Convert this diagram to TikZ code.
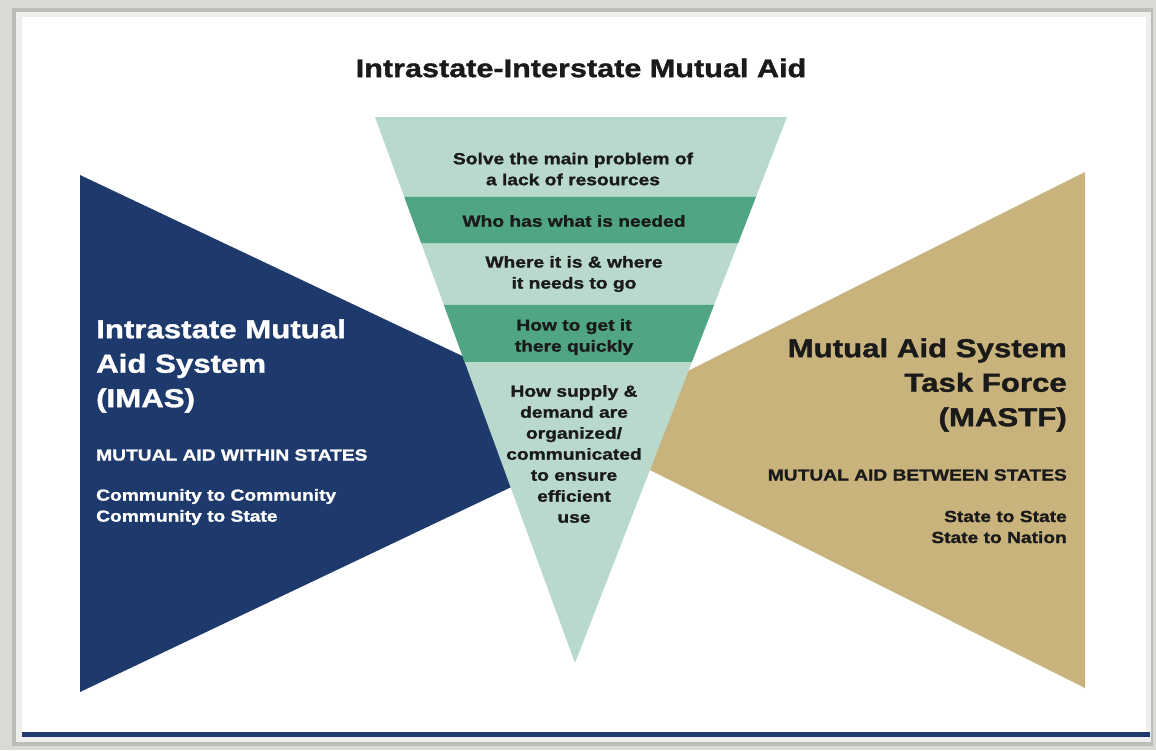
\documentclass[tikz,border=0pt]{standalone}
\usepackage{fontspec}
\setmainfont{Liberation Sans}
\newfontfamily\wfont[FakeStretch=1.2,FakeBold=1.3]{Liberation Sans}
\usetikzlibrary{calc}
\definecolor{bgray}{HTML}{D9D9D5}
\definecolor{frdark}{HTML}{BDBDB8}
\definecolor{frlight}{HTML}{EEEEEC}
\definecolor{navy}{HTML}{1E3A6D}
\definecolor{gold}{HTML}{C9B37D}
\definecolor{sage}{HTML}{B8D9CB}
\definecolor{sagedk}{HTML}{4FA584}
\definecolor{ink}{HTML}{1A1A1A}
\tikzset{
  txt/.style={inner sep=0pt, font=\wfont\bfseries},
  small/.style={txt, font=\wfont\bfseries\fontsize{16}{21}\selectfont},
  big/.style={txt, font=\wfont\bfseries\fontsize{26}{34.5}\selectfont},
}
\begin{document}
\begin{tikzpicture}[x=1pt,y=-1pt]
\useasboundingbox (0,0) rectangle (1156,750);
% frame
\fill[bgray] (0,0) rectangle (1156,750);
\fill[frdark] (12,8) rectangle (1153,746);
\fill[frlight] (16,12) rectangle (1151,742);
\fill[white] (22,17) rectangle (1146,732);
\fill[navy] (22,732) rectangle (1150,737);
% side triangles
\coordinate (btl) at (80,175);
\coordinate (bbl) at (80,692);
\coordinate (bap) at (625,433);
\coordinate (gtr) at (1085,172);
\coordinate (gbr) at (1085,688);
\coordinate (gap) at (570,430);
\fill[navy] (btl) -- (bap) -- (bbl) -- cycle;
\fill[gold] (gtr) -- (gap) -- (gbr) -- cycle;
% funnel
\coordinate (ftl) at (375,117);
\coordinate (ftr) at (787,117);
\coordinate (fap) at (575,663);
\fill[sage] (ftl) -- (ftr) -- (fap) -- cycle;
\fill[sagedk] ($(ftl)!0.1465!(fap)$) -- ($(ftr)!0.1465!(fap)$) -- ($(ftr)!0.2308!(fap)$) -- ($(ftl)!0.2308!(fap)$) -- cycle;
\fill[sagedk] ($(ftl)!0.3443!(fap)$) -- ($(ftr)!0.3443!(fap)$) -- ($(ftr)!0.4487!(fap)$) -- ($(ftl)!0.4487!(fap)$) -- cycle;
% title
\node[txt, font=\wfont\bfseries\fontsize{25.5}{30}\selectfont, text=ink] (title) at (581,68) {Intrastate-Interstate Mutual Aid};
% funnel texts
\node[small, text=ink, align=center] (f1) at (573,169) {Solve the main problem of\\a lack of resources};
\node[small, text=ink, align=center] (f2) at (574,221) {Who has what is needed};
\node[small, text=ink, align=center] (f3) at (574,274) {Where it is \& where\\it needs to go};
\node[small, text=ink, align=center] (f4) at (574,337) {How to get it\\there quickly};
\node[small, text=ink, align=center] (f5) at (574,454) {How supply \&\\demand are\\organized/\\communicated\\to ensure\\efficient\\use};
% left texts
\node[big, text=white, align=left, anchor=west] (l1) at (96,366) {Intrastate Mutual\\Aid System\\(IMAS)};
\node[small, text=white, anchor=west] (l2) at (96,455) {MUTUAL AID WITHIN STATES};
\node[small, text=white, align=left, anchor=west] (l3) at (96,507) {Community to Community\\Community to State};
% right texts
\node[big, text=ink, align=right, anchor=east] (r1) at (1067,385) {Mutual Aid System\\Task Force\\(MASTF)};
\node[small, text=ink, anchor=east] (r2) at (1067,475) {MUTUAL AID BETWEEN STATES};
\node[small, text=ink, align=right, anchor=east] (r3) at (1067,527) {State to State\\State to Nation};
\end{tikzpicture}
\end{document}
